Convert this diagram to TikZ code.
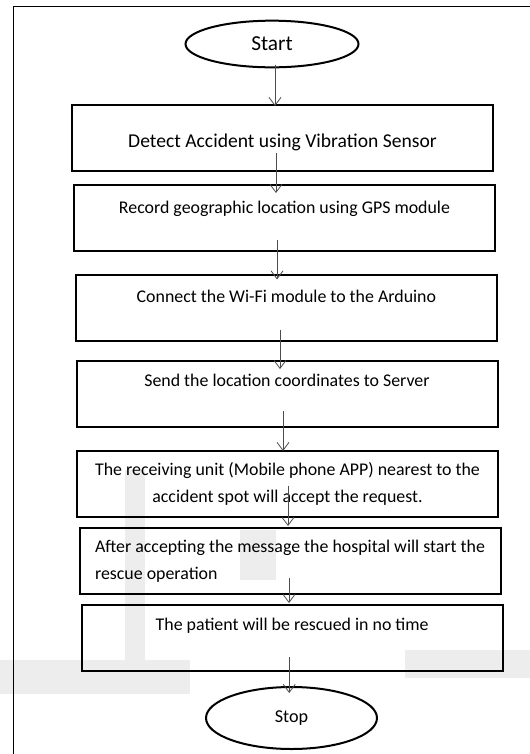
\documentclass[tikz,border=0pt]{standalone}
\usepackage{fontspec}
\setmainfont{Carlito}
\usetikzlibrary{shapes.geometric,arrows.meta}

\begin{document}
\begin{tikzpicture}[x=0.75pt, y=-0.75pt,
    kasten/.style={draw, line width=1.5pt, minimum width=315.75pt, minimum height=49.5pt, inner sep=0pt, font=\fontsize{13.4}{20.25}\selectfont},
    oval/.style={draw, ellipse, line width=1.5pt, inner sep=0pt, font=\fontsize{13.6}{17}\selectfont},
    hoch/.style={text height=8.6pt, text depth=#1},
    pfeil/.style={draw=black!70, line width=0.6pt, -{Straight Barb[length=6pt,width=9pt]}},
    schatten/.style={fill=black!7, draw=none}]

    % Rahmen
    \useasboundingbox (0,0) rectangle (530,754);
    \clip (0,0) rectangle (530,754);
    \fill[schatten] (125,470) rectangle (145,660);
    \fill[schatten] (240,530) rectangle (276,580);
    \fill[schatten] (0,660) rectangle (190,694);
    \fill[schatten] (405,650) rectangle (530,678);
    \draw[line width=1pt] (13.5,6.8) rectangle (560,780);

    % Knoten
    \node[oval, minimum width=129.75pt, minimum height=35pt, font=\fontsize{16}{19}\selectfont] (start) at (272,44) {Start};
    \node[kasten, font=\fontsize{14.7}{18}\selectfont, text height=13.8pt, text depth=0pt] (b1) at (282.5,138) {Detect Accident using Vibration Sensor};
    \node[kasten, hoch=15pt] (b2) at (284.5,218) {Record geographic location using GPS module};
    \node[kasten, hoch=16.5pt] (b3) at (286.4,307.5) {Connect the Wi-Fi module to the Arduino};
    \node[kasten, hoch=20pt] (b4) at (287,394) {Send the location coordinates to Server};
    \node[kasten, align=center] (b5) at (287.5,484) {The receiving unit (Mobile phone APP) nearest to the\\accident spot will accept the request.};
    \node[kasten, align=left] (b6) at (290,561) {After accepting the message the hospital will start the\\rescue operation};
    \node[kasten, hoch=19.5pt] (b7) at (292.2,638) {The patient will be rescued in no time};
    \node[oval, minimum width=128.25pt, minimum height=46.5pt] (stop) at (291.5,718) {Stop};

    % Pfeile
    \foreach \a/\b/\dx/\s/\e in {start/b1/2.25pt/-2.7pt/-1.5pt, b1/b2/-4.9pt/-14.25pt/-6.75pt,
        b2/b3/-5.6pt/-9pt/-4.5pt, b3/b4/-4.8pt/-9pt/-6.75pt, b4/b5/-3pt/-12.75pt/-0.75pt,
        b5/b6/0.4pt/-24pt/0.75pt, b6/b7/-0.75pt/-12.75pt/0.75pt, b7/stop/-2.25pt/-11.25pt/-5.25pt}
    {
        \coordinate (p) at ([xshift=\dx]\a.south);
        \draw[pfeil, shorten <=\s, shorten >=\e] (p) -- (p |- \b.north);
    }

\end{tikzpicture}
\end{document}
